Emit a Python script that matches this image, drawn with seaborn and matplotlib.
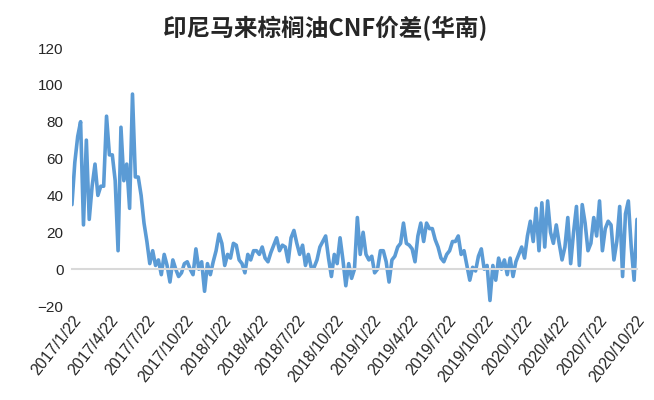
import matplotlib
matplotlib.use("Agg")
import matplotlib.pyplot as plt
import matplotlib.dates as mdates
import seaborn as sns
import pandas as pd

# weekly readings of the spread (USD/t), starting 2017/1/22
spread_2017 = [35, 58, 72, 80, 24, 70, 27, 45, 57, 40, 45, 45, 83, 62, 62, 48, 10, 77, 48, 57,
               33, 95, 50, 50, 40, 25, 15, 3, 10, 2]
spread_2018a = [5, -3, 8, 2, -7, 5, 0, -4, -2, 3, 4, 0, -3, 11, 0, 4, -12, 3, -3, 4,
                10, 19, 14, 2, 8, 6, 14, 13, 5, 3, -2, 8, 5, 10]
spread_2018b = [10, 8, 12, 6, 4, 9, 13, 17, 10, 13, 12, 4, 17, 21, 14, 8, 13, 2, 8, 1,
                1, 5, 12, 15, 18, 6, -4, 8, 3, 17, 5, -9, 3]
spread_2019 = [-5, 0, 28, 8, 20, 8, 5, 7, -2, 0, 10, 10, 4, -7, 5, 7, 12, 14, 25, 14,
               13, 11, 4, 18, 25, 15, 25, 22, 22, 16, 12, 6, 4]
spread_2019b = [8, 10, 15, 15, 18, 8, 10, 2, -6, 1, -1, 7, 11, 0, 2, -17, 2, -6, 6, 0,
                5, -3, 6, -4, 4, 8, 12, 6, 18, 26, 15, 33]
spread_2020 = [10, 36, 12, 37, 20, 14, 24, 14, 5, 12, 28, 3, 20, 34, 2, 35, 25, 10, 14, 28,
               18, 37, 10, 22, 26, 24, 5, 15, 34, -4, 30, 37, 12, -6, 27]

values = spread_2017 + spread_2018a + spread_2018b + spread_2019 + spread_2019b + spread_2020
dates = pd.date_range("2017-01-22", periods=len(values), freq="7D")
df = pd.DataFrame({"date": dates, "spread": values})

tick_dates = pd.date_range("2017-01-22", periods=16, freq=pd.DateOffset(months=3))
tick_labels = [f"{d.year}/{d.month}/{d.day}" for d in tick_dates]
title = "印尼马来棕榈油CNF价差(华南)"

sns.set_style("white")
plt.rcParams["font.family"] = ["Liberation Sans", "Noto Sans CJK SC", "DejaVu Sans"]

fig = plt.figure(figsize=(6.54, 4.0), dpi=100)
ax = fig.add_axes([0.110, 0.235, 0.864, 0.645])

sns.lineplot(data=df, x="date", y="spread", ax=ax, color="#5B9BD5", linewidth=2.6)

ax.set_ylim(-20, 120)
ax.set_yticks(range(-20, 121, 20))
ax.set_xlim(dates[0], dates[-1])
ax.set_xlabel("")
ax.set_ylabel("")

for side in ["top", "right", "left"]:
    ax.spines[side].set_visible(False)
ax.spines["bottom"].set_position(("data", 0))
ax.spines["bottom"].set_color("#D9D9D9")
ax.spines["bottom"].set_linewidth(1.5)
ax.set_xticks(tick_dates)
ax.tick_params(axis="x", direction="out", length=5, width=1.2, color="#D9D9D9",
               labelbottom=False)
ax.tick_params(axis="y", length=0, labelsize=11, pad=6)

# date labels sit below the plot area
sec = ax.secondary_xaxis(0)
sec.spines["bottom"].set_visible(False)
sec.set_xticks(mdates.date2num(tick_dates))
sec.set_xticklabels(tick_labels, rotation=52, ha="right", rotation_mode="anchor", fontsize=11.5)
sec.tick_params(axis="x", length=0, pad=5)

fig.text(0.497, 0.93, title, ha="center", va="center", fontsize=17, fontweight="bold",
         family=["Noto Sans CJK SC", "DejaVu Sans"])

fig.savefig("out.png", dpi=100)
